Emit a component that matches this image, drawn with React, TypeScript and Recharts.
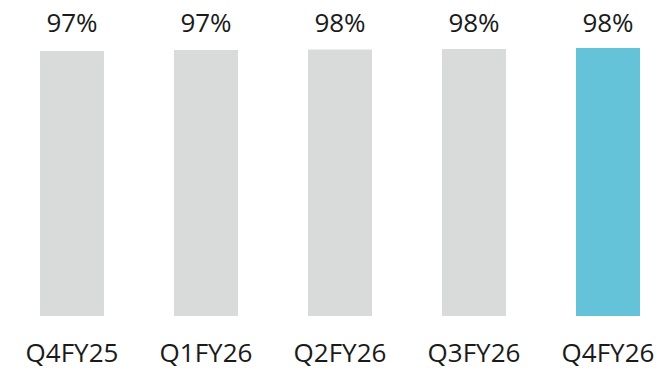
import React from 'react';
import { BarChart, Bar, XAxis, YAxis, Cell, LabelList } from 'recharts';

const categories = ['Q4FY25', 'Q1FY26', 'Q2FY26', 'Q3FY26', 'Q4FY26'];
const values = [97.1, 97.4, 97.6, 97.8, 98.2];
const colors = ['#D9DBDA', '#D9DBDA', '#D9DBDA', '#D9DBDA', '#64C3D8'];

const data = categories.map((c, i) => ({ name: c, value: values[i] }));

const FONT = '"Open Sans", sans-serif';

const TopLabel = (props: any) => {
  const { x, width, value } = props;
  return (
    <text
      x={Number(x) + Number(width) / 2}
      y={32}
      textAnchor="middle"
      fontFamily={FONT}
      fontSize={26}
      fill="#1a1a1a"
    >
      {Math.round(Number(value)) + '%'}
    </text>
  );
};

export default function App() {
  return (
    <div style={{ position: 'fixed', left: 0, top: 0, width: 658, height: 373, overflow: 'hidden', background: '#fff' }}>
      <div style={{ marginLeft: 5 }}>
        <BarChart
          width={670}
          height={373}
          data={data}
          margin={{ top: 43, right: 0, bottom: 0, left: 0 }}
          barSize={64}
        >
          <YAxis hide domain={[0, 100]} />
          <XAxis
            dataKey="name"
            axisLine={false}
            tickLine={false}
            tickSize={0}
            tickMargin={28}
            height={57}
            interval={0}
            tick={{ fontFamily: FONT, fontSize: 26, fill: '#1a1a1a' }}
          />
          <Bar dataKey="value" isAnimationActive={false}>
            {data.map((d, i) => (
              <Cell key={d.name} fill={colors[i]} />
            ))}
            <LabelList dataKey="value" content={TopLabel} />
          </Bar>
        </BarChart>
      </div>
    </div>
  );
}
